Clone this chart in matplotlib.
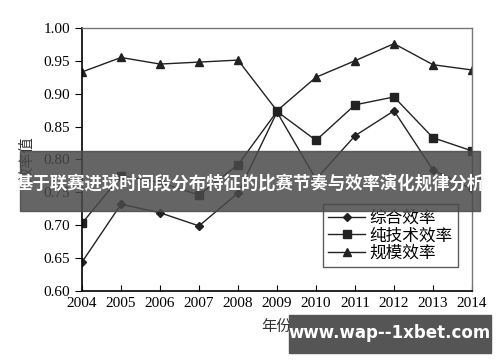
import matplotlib
matplotlib.use("Agg")
import matplotlib.pyplot as plt
from matplotlib.patches import Rectangle

plt.rcParams['font.family'] = ['Liberation Serif', 'Noto Sans CJK SC', 'DejaVu Sans']

# data
years = [2004, 2005, 2006, 2007, 2008, 2009, 2010, 2011, 2012, 2013, 2014]
zonghe = [0.644, 0.732, 0.719, 0.699, 0.749, 0.872, 0.770, 0.836, 0.874, 0.784, 0.755]
chunjishu = [0.703, 0.775, 0.765, 0.746, 0.792, 0.873, 0.829, 0.883, 0.895, 0.833, 0.813]
guimo = [0.933, 0.955, 0.945, 0.948, 0.951, 0.874, 0.925, 0.950, 0.976, 0.944, 0.936]
labels = ['综合效率', '纯技术效率', '规模效率']
yticks = [0.60, 0.65, 0.70, 0.75, 0.80, 0.85, 0.90, 0.95, 1.00]

fig = plt.figure(figsize=(5.0, 3.62), dpi=100)
ax = fig.add_axes([0.164, 0.196, 0.78, 0.727])

lc = '#222222'
ax.plot(years, zonghe, '-D', color=lc, lw=1.0, ms=4, label=labels[0])
ax.plot(years, chunjishu, '-s', color=lc, lw=1.0, ms=5.5, label=labels[1])
ax.plot(years, guimo, '-^', color=lc, lw=1.0, ms=6, label=labels[2])

ax.set_xlim(2004, 2014)
ax.set_ylim(0.60, 1.00)
ax.set_xticks(years)
ax.set_yticks(yticks)
ax.set_yticklabels(['%.2f' % v for v in yticks])
ax.tick_params(axis='x', direction='in', length=4, labelsize=11, pad=4)
ax.tick_params(axis='y', direction='out', length=5, labelsize=11)
for s in ['top', 'right']:
    ax.spines[s].set_color('#777777')
    ax.spines[s].set_linewidth(1.0)
for s in ['left', 'bottom']:
    ax.spines[s].set_linewidth(1.2)

ax.set_xlabel('年份', fontsize=11, color='#333333',
              family=['Noto Sans CJK SC', 'DejaVu Sans'], labelpad=6)
ax.set_ylabel('效率值', fontsize=11, color='#333333',
              family=['Noto Sans CJK SC', 'DejaVu Sans'], labelpad=6)

leg = ax.legend(loc='lower right', bbox_to_anchor=(0.964, 0.091), frameon=True,
                fancybox=False, edgecolor='#333333', borderaxespad=0,
                handlelength=2.2, handletextpad=0.3, labelspacing=0.05,
                borderpad=0.3, prop={'family': ['Noto Sans CJK SC'], 'size': 12})
leg.get_frame().set_linewidth(1.0)

# banner over the chart
fig.patches.append(Rectangle((20 / 500, 1 - 211 / 362), 460 / 500, 60 / 362,
                             transform=fig.transFigure, color='#4a4a4a',
                             alpha=0.85, zorder=10))
fig.text(0.5, 1 - 184 / 362, '基于联赛进球时间段分布特征的比赛节奏与效率演化规律分析',
         ha='center', va='center', color='white', fontsize=12.5, fontweight='bold',
         family=['Noto Sans CJK SC', 'DejaVu Sans'], zorder=11)

# watermark box
fig.patches.append(Rectangle((289 / 500, 1 - 353 / 362), 202 / 500, 38 / 362,
                             transform=fig.transFigure, color='#555555',
                             zorder=10))
fig.text(390 / 500, 1 - 333 / 362, 'www.wap--1xbet.com', ha='center', va='center',
         color='white', fontsize=12, fontweight='bold',
         family=['DejaVu Sans'], zorder=11)

fig.savefig('out.png', dpi=100)
